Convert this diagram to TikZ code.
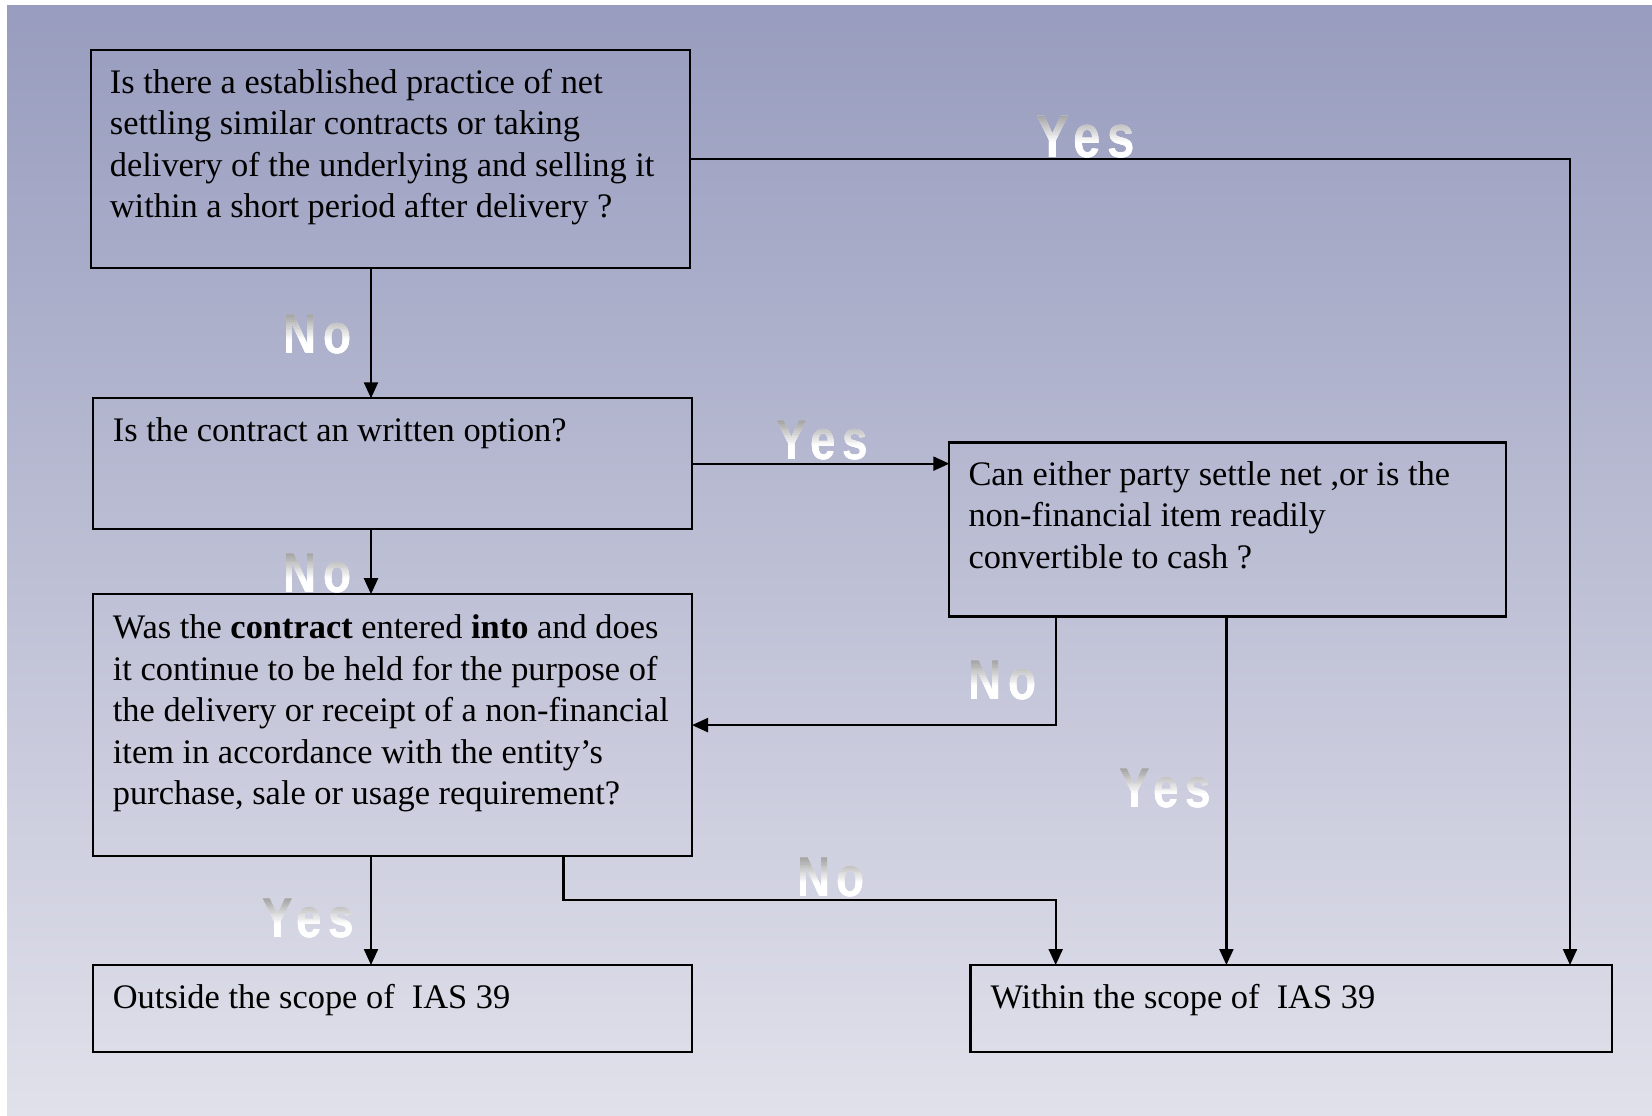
\documentclass[tikz,border=0pt]{standalone}
\usepackage{fontspec}
\usepackage{graphicx}
\setmainfont{Liberation Serif}
\newfontfamily\tagfam[LetterSpace=14]{Liberation Sans}
\usetikzlibrary{arrows.meta,calc}

\definecolor{bgtop}{RGB}{152,156,190}
\definecolor{bgbot}{RGB}{225,225,235}

% natural, unstretched word spacing for the box texts
\newcommand\plainwords{\spaceskip=0.25em\xspaceskip=0.25em\rightskip=0pt plus 1fil\relax}

\tikzset{
  box/.style={draw=black, line width=2.2pt, inner sep=0pt, outer sep=0pt, fill=none},
  txt/.style={anchor=base west, inner sep=0pt, text width=640pt, align=left,
              font=\fontsize{34.4}{41.5}\selectfont},
  arr/.style={line width=2.2pt, -{Triangle[length=16pt,width=14pt]}},
  tag/.style={anchor=south, inner sep=0pt, text height=40pt, text depth=2pt,
              font=\tagfam\bfseries\fontsize{56}{56}\selectfont},
  bigtag/.style={tag, text height=43pt, font=\tagfam\bfseries\fontsize{60}{60}\selectfont},
}

% Yes/No tags: grey at the top, fading to white lower down,
% built from thin clipped horizontal bands.
\newcommand\gradtag[4]{% #1 style, #2 name, #3 position, #4 text
  \node[#1, text=white] (#2) at (#3) {\scalebox{0.82}[1]{#4}};
  \foreach \k in {0,...,23}{
    \pgfmathsetmacro\lo{\k/24}
    \pgfmathsetmacro\hi{(\k+1)/24}
    \pgfmathsetmacro\mix{max(0,38*(1-\lo/0.62))}
    \begin{scope}
      \clip ($(#2.north west)!\lo!(#2.south west)+(-3,-0.4)$) rectangle
            ($(#2.north east)!\hi!(#2.south east)+(3,0.4)$);
      \node[#1, text=black!\mix!white] at (#3) {\scalebox{0.82}[1]{#4}};
    \end{scope}}
}

\begin{document}
\begin{tikzpicture}[x=1pt,y=-1pt]
  \useasboundingbox (0,0) rectangle (1652,1116);
  \fill[white] (0,0) rectangle (1652,1116);
  \shade[top color=bgtop, bottom color=bgbot] (7,6) rectangle (1652,1116);

  % question and outcome boxes
  \node[box, minimum width=599.3pt, minimum height=217.6pt] (b1) at (390.35,158.8) {};
  \node[box, minimum width=599.3pt, minimum height=130.7pt] (b2) at (392.35,463.65) {};
  \node[box, minimum width=556.3pt, minimum height=173.9pt] (b3) at (1227.45,529.45) {};
  \node[box, minimum width=599.3pt, minimum height=261.8pt] (b4) at (392.35,725.1) {};
  \node[box, minimum width=599.3pt, minimum height=87pt] (b5) at (392.35,1008.5) {};
  \node[box, minimum width=641.6pt, minimum height=87pt] (b6) at (1291.2,1008.5) {};

  \node[txt] (t1) at ($(b1.north west)+(19,43)$)
    {\plainwords Is there a established practice of net\\
     settling similar contracts or taking\\
     delivery of the underlying and selling it\\
     within a short period after delivery ?};
  \node[txt] (t2) at ($(b2.north west)+(20,43.5)$)
    {\plainwords Is the contract an written option?};
  \node[txt] (t3) at ($(b3.north west)+(19,42.5)$)
    {\plainwords Can either party settle net ,or is the\\
     non-financial item readily\\
     convertible to cash ?};
  \node[txt] (t4) at ($(b4.north west)+(20,44.3)$)
    {\plainwords Was the \textbf{contract} entered \textbf{into} and does\\
     it continue to be held for the purpose of\\
     the delivery or receipt of a non-financial\\
     item in accordance with the entity’s\\
     purchase, sale or usage requirement?};
  \node[txt] (t5) at ($(b5.north west)+(20,43)$)
    {\plainwords Outside the scope of~~IAS 39};
  \node[txt] (t6) at ($(b6.north west)+(20,43)$)
    {\plainwords Within the scope of~~IAS 39};

  % connector columns and rows
  \coordinate (xa) at (371,0);
  \coordinate (xb) at (563.5,0);
  \coordinate (xc) at (1055.7,0);
  \coordinate (xd) at (1226.4,0);
  \coordinate (xe) at (1570,0);
  \coordinate (yd) at (0,900);

  \draw[arr] (b1.south -| xa) -- (b2.north -| xa);
  \draw[arr] (b2.east) -- (b2.east -| b3.west);
  \draw[arr] (b2.south -| xa) -- (b4.north -| xa);
  \draw[arr] (b3.south -| xc) |- (b4.east);
  \draw[arr] (b3.south -| xd) -- (b6.north -| xd);
  \draw[arr] (b1.east) -| (b6.north -| xe);
  \draw[arr] (b4.south -| xa) -- (b5.north -| xa);
  \draw[arr] (b4.south -| xb) -- (xb |- yd) -- (xc |- yd) -- (b6.north -| xc);

  % answer tags
  \gradtag{bigtag}{y1}{1085.5,160}{Yes}
  \gradtag{tag}{n1}{317.5,356}{No}
  \gradtag{tag}{y2}{822.5,462}{Yes}
  \gradtag{tag}{n2}{317.5,595}{No}
  \gradtag{tag}{n3}{1002.5,702}{No}
  \gradtag{tag}{n4}{831,899}{No}
  \gradtag{tag}{y3}{1165.5,810}{Yes}
  \gradtag{tag}{y4}{308.5,940}{Yes}
\end{tikzpicture}
\end{document}
